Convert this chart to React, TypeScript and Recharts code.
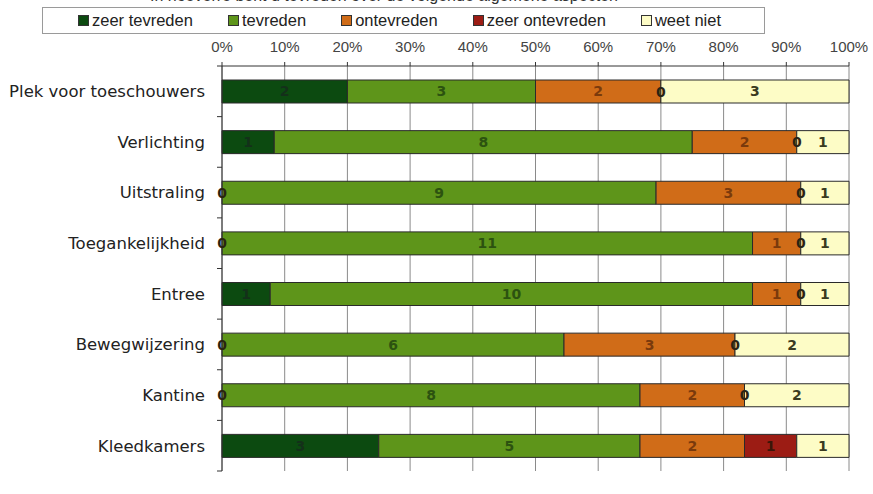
import React from "react";
import { BarChart, Bar, XAxis, YAxis, CartesianGrid, LabelList, Legend, Text } from "recharts";

const categories = [
  "Plek voor toeschouwers",
  "Verlichting",
  "Uitstraling",
  "Toegankelijkheid",
  "Entree",
  "Bewegwijzering",
  "Kantine",
  "Kleedkamers",
];
const zeerTevreden = [2, 1, 0, 0, 1, 0, 0, 3];
const tevreden = [3, 8, 9, 11, 10, 6, 8, 5];
const ontevreden = [2, 2, 3, 1, 1, 3, 2, 2];
const zeerOntevreden = [0, 0, 0, 0, 0, 0, 0, 1];
const weetNiet = [3, 1, 1, 1, 1, 2, 2, 1];

const seriesKeys = ["zt", "t", "o", "zo", "wn"];
const seriesNames = ["zeer tevreden", "tevreden", "ontevreden", "zeer ontevreden", "weet niet"];
const seriesColors = ["#0c4a10", "#5e951a", "#d06c18", "#9c1c14", "#fdfcc6"];
const labelColors = ["#14301a", "#2c5210", "#7a3a0c", "#3a1608", "#3a3a20"];
const zeroLabelColor = "#2a2412";

const percentTicks = [0, 0.1, 0.2, 0.3, 0.4, 0.5, 0.6, 0.7, 0.8, 0.9, 1];
const titleText = "In hoeverre bent u tevreden over de volgende algemene aspecten";

const data = categories.map((name, i) => ({
  name,
  zt: zeerTevreden[i],
  t: tevreden[i],
  o: ontevreden[i],
  zo: zeerOntevreden[i],
  wn: weetNiet[i],
}));

const FONT_LABEL = "'DejaVu Sans', Verdana, sans-serif";

const ZeroLabel = (props: any) => {
  const vb = props.viewBox || props;
  const { x, y, height } = vb;
  if (props.value !== 0 || x == null) return null;
  return (
    <text
      x={x}
      y={y + height / 2}
      dy="0.36em"
      textAnchor="middle"
      fill={zeroLabelColor}
      fontSize={14}
      fontWeight="bold"
      fontFamily={FONT_LABEL}
    >
      0
    </text>
  );
};

const CategoryTick = (props: any) => {
  const { x, y, payload, index, visibleTicksCount, height } = props;
  let half = payload && payload.offset ? payload.offset : 0;
  if (!half && height && visibleTicksCount) half = height / visibleTicksCount / 2;
  const ax = x + 17;
  return (
    <g>
      <line x1={ax - 5} x2={ax} y1={y - half} y2={y - half} stroke="#333" strokeWidth={1} />
      {index === visibleTicksCount - 1 ? (
        <line x1={ax - 5} x2={ax} y1={y + half} y2={y + half} stroke="#333" strokeWidth={1} />
      ) : null}
      <Text
        x={x}
        y={y}
        textAnchor="end"
        verticalAnchor="middle"
        fontSize={16.5}
        fill="#222"
        fontFamily={FONT_LABEL}
      >
        {payload.value}
      </Text>
    </g>
  );
};

const LegendBox = () => (
  <div
    style={{
      width: 723,
      height: 27,
      border: "1px solid #9a9a9a",
      display: "flex",
      alignItems: "center",
      paddingLeft: 35,
      boxSizing: "border-box",
      gap: 35,
      fontFamily: "'Liberation Sans', Arial, sans-serif",
      fontSize: 16.5,
      color: "#222",
    }}
  >
    {seriesNames.map((n, i) => (
      <div key={n} style={{ display: "flex", alignItems: "center", whiteSpace: "nowrap" }}>
        <span
          style={{
            display: "inline-block",
            width: 9,
            height: 9,
            background: seriesColors[i],
            border: "1px solid #333",
            marginRight: 3,
          }}
        />
        <span>{n}</span>
      </div>
    ))}
  </div>
);

export default function App() {
  return (
    <div style={{ position: "absolute", left: 0, top: 0, width: 873, height: 494, overflow: "hidden", background: "#fff" }}>
      <div
        style={{
          position: "absolute",
          left: 150,
          top: -13,
          fontFamily: "'Liberation Sans', Arial, sans-serif",
          fontSize: 16,
          color: "#333",
          whiteSpace: "nowrap",
        }}
      >
        {titleText}
      </div>
      <BarChart
        width={873}
        height={506}
        data={data}
        layout="vertical"
        stackOffset="expand"
        barSize={23}
        margin={{ top: 0, right: 24, bottom: 8, left: 0 }}
      >
        <CartesianGrid horizontal={false} stroke="#8a8a8a" />
        <XAxis
          type="number"
          orientation="top"
          domain={[0, 1]}
          ticks={percentTicks}
          height={66}
          tickFormatter={(v: number) => `${Math.round(v * 100)}%`}
          axisLine={{ stroke: "#333" }}
          tickLine={{ stroke: "#333" }}
          tickSize={4}
          tickMargin={10}
          tick={{ fontSize: 15, fill: "#444", fontFamily: "'Liberation Sans', Arial, sans-serif" }}
          interval={0}
        />
        <YAxis
          type="category"
          dataKey="name"
          width={222}
          tickLine={false}
          tickSize={0}
          tickMargin={17}
          axisLine={{ stroke: "#333" }}
          tick={<CategoryTick />}
          interval={0}
        />
        <Legend
          content={() => <LegendBox />}
          wrapperStyle={{ position: "absolute", top: 7, left: 42, width: 723 }}
        />
        {seriesKeys.map((k, i) => (
          <Bar
            key={k}
            dataKey={k}
            name={seriesNames[i]}
            stackId="a"
            fill={seriesColors[i]}
            stroke="#2a2a2a"
            strokeWidth={1}
            isAnimationActive={false}
          >
            <LabelList
              dataKey={k}
              position="center"
              fill={labelColors[i]}
              fontSize={14}
              fontWeight="bold"
              fontFamily={FONT_LABEL}
            />
            {k === "t" ? <LabelList dataKey="zt" content={<ZeroLabel />} /> : null}
            {k === "wn" ? <LabelList dataKey="zo" content={<ZeroLabel />} /> : null}
          </Bar>
        ))}
      </BarChart>
    </div>
  );
}
